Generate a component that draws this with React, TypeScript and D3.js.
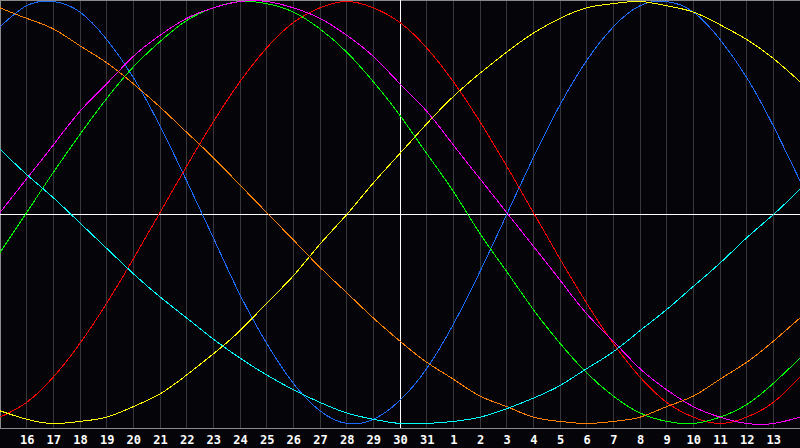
import { scaleLinear, line, curveNatural, range } from "d3";

// days shown, 15th of one month to the 14th of the next; today is the 30th
const days = [15, 16, 17, 18, 19, 20, 21, 22, 23, 24, 25, 26, 27, 28, 29, 30, 31, 1, 2, 3, 4, 5, 6, 7, 8, 9, 10, 11, 12, 13, 14];
const todayIndex = 15;

// cycle values in percent, one per day
const physical = [88, 98, 100, 95, 82, 64, 41, 15, -12, -39, -62, -81, -94, -100, -98, -89, -74, -53, -28, -1, 26, 51, 72, 88, 98, 100, 95, 82, 64, 41, 15];
const emotional = [-97, -90, -78, -62, -43, -22, 0, 22, 43, 62, 78, 90, 97, 100, 97, 90, 78, 62, 43, 22, 0, -22, -43, -62, -78, -90, -97, -100, -97, -90, -78];
const intellectual = [-19, 0, 19, 37, 54, 69, 81, 91, 97, 100, 99, 95, 87, 76, 62, 46, 28, 10, -10, -28, -46, -62, -76, -87, -95, -99, -100, -97, -91, -81, -69];
const intuitive = [0, 16, 32, 48, 61, 74, 84, 92, 97, 100, 100, 97, 92, 84, 74, 61, 48, 32, 16, 0, -16, -32, -48, -61, -74, -84, -92, -97, -100, -100, -97];
const aesthetic = [-94, -98, -100, -99, -97, -92, -86, -77, -67, -56, -43, -30, -15, -1, 14, 28, 42, 55, 66, 76, 85, 92, 97, 99, 100, 98, 95, 89, 82, 73, 62];
const awareness = [97, 92, 87, 79, 71, 61, 50, 38, 26, 13, 0, -13, -26, -38, -50, -61, -71, -79, -87, -92, -97, -99, -100, -99, -97, -92, -87, -79, -71, -61, -50];
const spiritual = [30, 18, 7, -5, -17, -29, -40, -50, -60, -69, -77, -84, -90, -95, -98, -100, -100, -99, -97, -93, -88, -82, -74, -66, -56, -46, -35, -24, -12, -1, 11];

const series = [
    { name: "physical", values: physical, color: "#1a6cff" },
    { name: "emotional", values: emotional, color: "#ff0000" },
    { name: "intellectual", values: intellectual, color: "#00ff00" },
    { name: "intuitive", values: intuitive, color: "#ff00ff" },
    { name: "aesthetic", values: aesthetic, color: "#ffff00" },
    { name: "awareness", values: awareness, color: "#ff8000" },
    { name: "spiritual", values: spiritual, color: "#00ffff" },
];

const W = 800;
const H = 448;
const plotBottom = 428;

export default function App() {
    const x = scaleLinear().domain([0, days.length - 1]).range([0, W]);
    const y = scaleLinear().domain([-100, 100]).range([423.5, 1.5]);

    const path = line<number>()
        .x((_, i) => x(i))
        .y((v) => y(v))
        .curve(curveNatural);

    const gridIdx = range(1, days.length - 1);

    return (
        <div style={{ position: "fixed", left: 0, top: 0, width: W, height: H }}>
            <svg width={W} height={H} style={{ display: "block" }}>
                <rect x={0} y={0} width={W} height={H} fill="#050509" />

                {/* day grid */}
                {gridIdx.map((i) =>
                    i === todayIndex ? null : (
                        <line
                            key={i}
                            x1={x(i)}
                            x2={x(i)}
                            y1={0}
                            y2={plotBottom}
                            stroke="#38383c"
                            shapeRendering="crispEdges"
                        />
                    ),
                )}

                {/* frame */}
                <line x1={0.5} x2={0.5} y1={0} y2={plotBottom} stroke="#8a8a8a" shapeRendering="crispEdges" />
                <line x1={0} x2={W} y1={0.5} y2={0.5} stroke="#8a8a8a" shapeRendering="crispEdges" />
                <line x1={0} x2={W} y1={plotBottom + 0.5} y2={plotBottom + 0.5} stroke="#8a8a8a" shapeRendering="crispEdges" />

                {/* today + zero line */}
                <line x1={x(todayIndex)} x2={x(todayIndex)} y1={0} y2={plotBottom} stroke="#ffffff" shapeRendering="crispEdges" />
                <line x1={0} x2={W} y1={214.5} y2={214.5} stroke="#ffffff" shapeRendering="crispEdges" />

                {/* cycles */}
                {series.map((s) => (
                    <path
                        key={s.name}
                        d={path(s.values) ?? ""}
                        fill="none"
                        stroke={s.color}
                        strokeWidth={1}
                        shapeRendering="crispEdges"
                    />
                ))}

                {/* day labels */}
                {gridIdx.map((i) => (
                    <text
                        key={i}
                        x={x(i) + 0.5}
                        y={443.5}
                        textAnchor="middle"
                        fill="#ffffff"
                        fontFamily="'DejaVu Sans Mono', monospace"
                        fontWeight="bold"
                        fontSize={12}
                    >
                        {days[i]}
                    </text>
                ))}
            </svg>
        </div>
    );
}
